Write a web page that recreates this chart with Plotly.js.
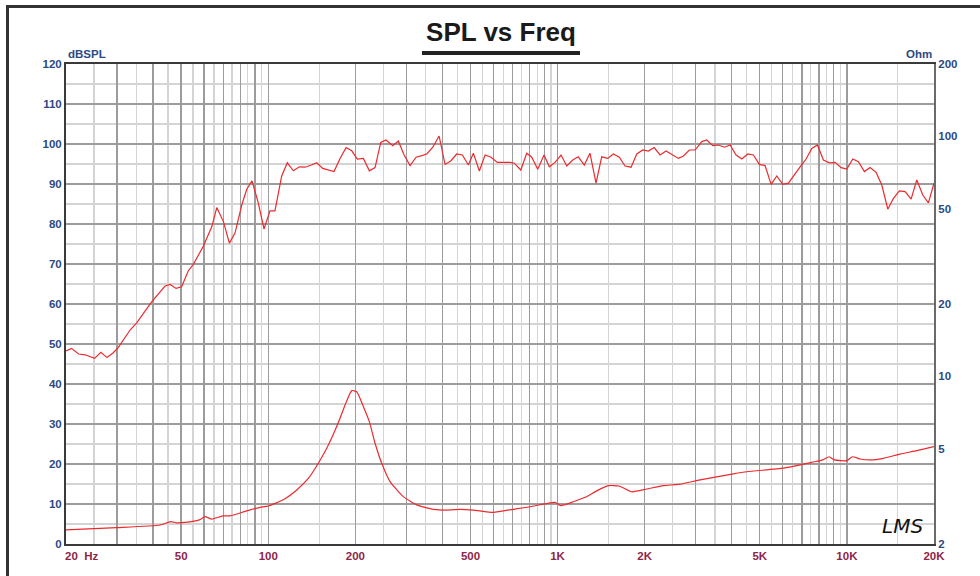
<!DOCTYPE html>
<html>
<head>
<meta charset="utf-8">
<script src="https://cdn.plot.ly/plotly-3.0.1.min.js"></script>
<style>
html,body{margin:0;padding:0;background:#fff;}
#chart{width:980px;height:576px;}
</style>
</head>
<body>
<div id="chart"></div>
<script>
// ---- Data ----
const splFreq = [20,20.9,22.1,23.3,25.1,26.4,27.7,29.0,30.3,33.3,
  35.1,39.6,44.0,45.8,48.0,50.2,52.9,55.1,59.7,63.8,
  66.4,70.0,73.4,76.8,81.0,84.3,87.9,92.4,96.7,101.4,
  105.5,111.3,116.4,122.1,128.1,134.0,140.3,147.1,154.3,161.3,
  168.8,177.1,185.8,194.4,203.2,213.3,223.6,234.0,244.8,255.4,
  269.4,281.6,294.8,309.2,324.3,339.5,353.3,370.5,389.5,408.5,
  427.3,448.2,468.8,491.7,511.6,536.6,561.6,589.0,619.2,649.6,
  685.2,709,746,782.4,814.2,854,897.8,936.6,980,1028,
  1076,1128,1179,1237,1294,1358,1421,1491,1559,1635,
  1711,1795,1878,1970,2060,2156,2261,2371,2482,2616,
  2722,2854,2988,3151,3278,3440,3596,3772,3948,4140,
  4333,4545,4751,4983,5215,5470,5724,6004,6277,6584,
  6890,7228,7564,7910,8296,8700,9104,9550,9990,10480,
  10960,11494,12028,12616,13200,13846,14480,15186,15892,16668,
  17440,18294,19128,20000];
const splDb = [48.25,48.9,47.5,47.3,46.4,47.9,46.6,47.7,49.1,53.5,
  55.3,60.6,64.5,64.9,63.9,64.3,68.25,69.9,74.5,79.3,
  84.1,80.6,75.2,77.8,84.75,88.7,90.8,85.2,78.75,83.3,
  83.3,92,95.3,93.3,94.3,94.2,94.7,95.3,93.9,93.5,
  93.1,96.4,99.1,98.3,96.25,96.4,93.3,94.1,100.4,101,
  99.6,100.75,97.25,94.6,96.7,97.1,97.5,99.2,102,94.9,
  95.75,97.5,97.25,94.75,97.7,93.25,97.25,96.7,95.4,95.4,
  95.4,95.2,93.5,97.7,96.7,93.7,97.25,94.3,95.4,97.25,
  94.5,96,96.8,94.75,97.7,90.2,96.8,96.4,97.5,96.7,
  94.5,94.2,97.5,98.5,98.25,99.1,97.25,98.25,97.4,96.4,
  97,98.5,98.5,100.6,101,99.6,99.75,99.2,99.75,97.25,
  96.25,97.5,97.25,94.9,94.6,89.9,92,89.9,90.2,92.4,
  94.3,96.25,98.9,99.75,96,95.3,95.4,94.1,93.75,96.25,
  95.6,93.1,94.1,92.9,89.75,83.7,86.4,88.3,88.1,86.2,
  91,87.25,85.3,90.2];

const zFreq = [20,30,42.3,46.0,48.3,51.6,57.8,60.5,63.8,69.6,
  73.8,84.3,93.7,100,112.8,125.5,137.6,149,159.3,167.9,
  176.1,184.3,194.4,202.2,213.3,223.6,234.0,246.8,263.6,293,
  326,372.2,414,460,512,600,703,803,942,980,
  1026,1134,1245,1366,1498,1631,1805,2034,2320,2652,
  3109,4051,4507,6031,6890,7564,8258,8680,9052,9990,
  10446,11106,12028,13372,15272,17440,20000];
const zOhm = [2.29,2.34,2.40,2.48,2.45,2.46,2.52,2.60,2.54,2.62,
  2.62,2.75,2.84,2.88,3.06,3.36,3.75,4.34,5.01,5.73,
  6.57,7.59,8.71,8.62,7.47,6.47,5.26,4.34,3.64,3.15,
  2.91,2.79,2.77,2.79,2.77,2.71,2.79,2.86,2.97,2.98,
  2.89,3.00,3.13,3.33,3.50,3.49,3.30,3.39,3.50,3.55,
  3.70,3.92,4.00,4.14,4.27,4.38,4.48,4.62,4.48,4.45,
  4.62,4.52,4.48,4.55,4.74,4.90,5.09];

// ---- Axis ticks / grid values ----
const xMajorVals = [20,30,40,50,60,70,80,90,100,200,300,400,500,600,700,800,900,
  1000,2000,3000,4000,5000,6000,7000,8000,9000,10000,20000];
const xMajorText = ['','','','50','','','','','100','200','','','500','','','','',
  '1K','2K','','','5K','','','','','10K','20K'];
const xMinorVals = [25,35,45,55,65,75,85,95,150,250,350,450,550,650,750,850,950,
  1500,2500,3500,4500,5500,6500,7500,8500,9500,15000];
const yMajorVals = [0,10,20,30,40,50,60,70,80,90,100,110,120];
const yMinorVals = [5,15,25,35,45,55,65,75,85,95,105,115];
const y2Vals = [2,5,10,20,50,100,200];
const y2Text = ['2','5','10','20','50','100','200'];

const navy = '#2c4a84';
const maroon = '#8e2548';
const darkGrid = '#9c9c9c';
const lightGrid = '#d4d4d4';
const red = '#ec2a2e';
const fam = '"Liberation Sans", Arial, sans-serif';

const traces = [
  {x: splFreq, y: splDb, type: 'scatter', mode: 'lines', xaxis: 'x', yaxis: 'y',
   line: {color: red, width: 1.2}, hoverinfo: 'skip', name: 'SPL'},
  {x: zFreq, y: zOhm, type: 'scatter', mode: 'lines', xaxis: 'x', yaxis: 'y2',
   line: {color: red, width: 1.2, shape: 'spline', smoothing: 0.5}, hoverinfo: 'skip', name: 'Impedance'}
];

const layout = {
  width: 980, height: 576,
  paper_bgcolor: '#ffffff', plot_bgcolor: '#ffffff',
  margin: {l: 66, r: 46, t: 64, b: 32, pad: 0},
  showlegend: false,
  title: {text: 'SPL vs Freq', x: 501/980, xanchor: 'center', y: 1 - 32/576, yanchor: 'middle',
    font: {family: fam, size: 26, color: '#1a1a1a', weight: 'bold'}},
  xaxis: {
    type: 'log', range: [Math.log10(20), Math.log10(20000)],
    tickmode: 'array', tickvals: xMajorVals, ticktext: xMajorText,
    showgrid: true, gridcolor: darkGrid, gridwidth: 1.4,
    minor: {tickmode: 'array', tickvals: xMinorVals, showgrid: true, gridcolor: lightGrid, gridwidth: 1.3, ticks: ''},
    ticks: '', showline: true, linecolor: '#3a3a3a', linewidth: 2, mirror: true,
    tickfont: {family: fam, size: 11.5, color: maroon, weight: 'bold'},
    zeroline: false, fixedrange: true
  },
  yaxis: {
    range: [0, 120], tickmode: 'array', tickvals: yMajorVals,
    showgrid: true, gridcolor: darkGrid, gridwidth: 1.4,
    minor: {tickmode: 'array', tickvals: yMinorVals, showgrid: true, gridcolor: lightGrid, gridwidth: 1.3, ticks: ''},
    ticks: '', showline: true, linecolor: '#3a3a3a', linewidth: 2, mirror: true,
    tickfont: {family: fam, size: 11.5, color: navy, weight: 'bold'},
    zeroline: false, fixedrange: true
  },
  yaxis2: {
    type: 'log', range: [Math.log10(2), Math.log10(200)], overlaying: 'y', side: 'right',
    tickmode: 'array', tickvals: y2Vals, ticktext: y2Text,
    showgrid: false, ticks: '', showline: true, linecolor: '#6a6a6a', linewidth: 2,
    tickfont: {family: fam, size: 11.5, color: navy, weight: 'bold'},
    zeroline: false, fixedrange: true
  },
  shapes: [
    // outer frame (top and left edges visible)
    {type: 'rect', xref: 'paper', yref: 'paper', x0: (7.5-66)/868, x1: 1.2, y0: -0.3, y1: (544-6.5)/480,
     line: {color: '#333333', width: 3}, fillcolor: 'rgba(0,0,0,0)', layer: 'above'},
    // title underline
    {type: 'line', xref: 'paper', yref: 'paper', x0: (422-66)/868, x1: (580-66)/868,
     y0: (544-53)/480, y1: (544-53)/480, line: {color: '#222222', width: 4}}
  ],
  annotations: [
    {text: '20\u00a0\u00a0Hz', xref: 'paper', yref: 'paper', x: (63-66)/868, y: 0, xanchor: 'left', yanchor: 'top',
     yshift: -4, showarrow: false, font: {family: fam, size: 11.5, color: maroon, weight: 'bold'}},
    {text: 'dBSPL', xref: 'paper', yref: 'paper', x: 0, y: 1, xanchor: 'left', yanchor: 'bottom',
     yshift: 2, showarrow: false, font: {family: fam, size: 11.5, color: navy, weight: 'bold'}},
    {text: 'Ohm', xref: 'paper', yref: 'paper', x: 1, y: 1, xanchor: 'right', yanchor: 'bottom',
     yshift: 2, showarrow: false, font: {family: fam, size: 11.5, color: navy, weight: 'bold'}},
    {text: 'LMS', xref: 'paper', yref: 'paper', x: (902-66)/868, y: (544-526)/480, xanchor: 'center', yanchor: 'middle',
     showarrow: false, font: {family: '"DejaVu Sans", sans-serif', size: 20, color: '#111111', style: 'italic'}}
  ]
};

Plotly.newPlot('chart', traces, layout, {displayModeBar: false, staticPlot: true});
</script>
</body>
</html>
